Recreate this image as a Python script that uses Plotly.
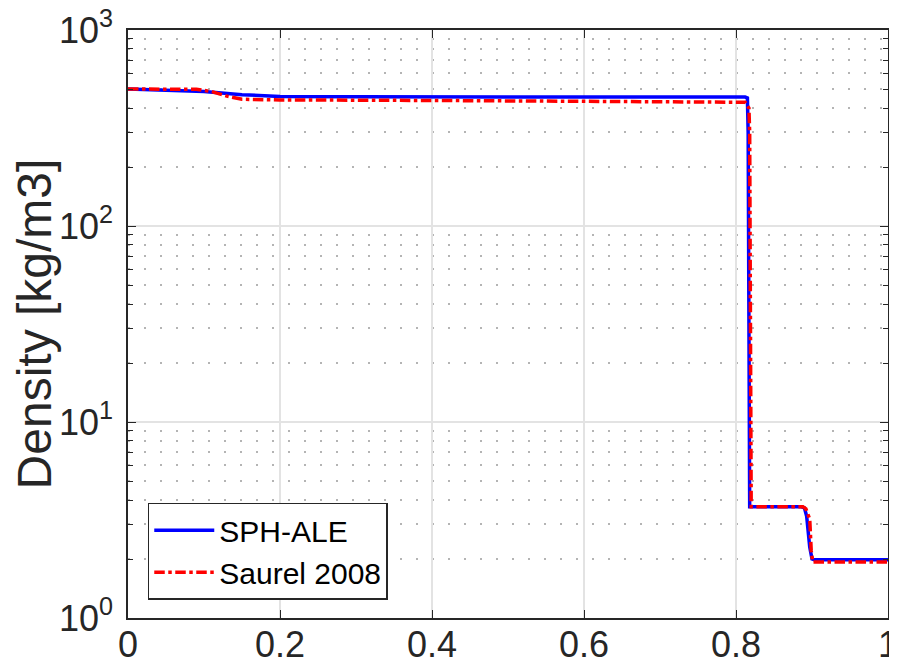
import plotly.graph_objects as go

# SPH-ALE
sph_x = [0.0, 0.05, 0.10, 0.15, 0.20, 0.30, 0.50, 0.70, 0.812, 0.815, 0.816, 0.818, 0.885, 0.890, 0.893, 0.897, 0.900, 0.903, 1.0]
sph_y = [500, 495, 485, 468, 458, 456, 455, 455, 455, 450, 300, 3.7, 3.7, 3.65, 3.3, 2.3, 2.0, 1.98, 1.98]

# Saurel 2008
sau_x = [0.0, 0.05, 0.09, 0.11, 0.13, 0.15, 0.20, 0.40, 0.60, 0.80, 0.812, 0.817, 0.818, 0.820, 0.888, 0.892, 0.897, 0.899, 0.901, 1.0]
sau_y = [500, 500, 498, 485, 460, 443, 440, 437, 433, 428, 428, 400, 300, 3.7, 3.7, 3.6, 3.2, 2.2, 1.93, 1.93]

x_ticks = [0, 0.2, 0.4, 0.6, 0.8, 1]
x_labels = ["0", "0.2", "0.4", "0.6", "0.8", "1"]
y_ticks = [1, 10, 100, 1000]
y_labels = ["10<sup>0</sup>", "10<sup>1</sup>", "10<sup>2</sup>", "10<sup>3</sup>"]

fig = go.Figure()
fig.add_trace(go.Scatter(x=sph_x, y=sph_y, mode="lines", name="SPH-ALE",
                         line=dict(color="#0000ff", width=3.5)))
fig.add_trace(go.Scatter(x=sau_x, y=sau_y, mode="lines", name="Saurel 2008",
                         line=dict(color="#ff0000", width=3.5, dash="dashdot")))

fam = "Liberation Sans, Arial, sans-serif"
font = dict(family=fam, size=34, color="#262626")

fig.update_layout(
    width=889, height=658,
    margin=dict(l=120, r=9, t=22, b=48, autoexpand=False),
    paper_bgcolor="white", plot_bgcolor="white",
    font=font,
    showlegend=True,
    legend=dict(x=0.026, y=0.031, xanchor="left", yanchor="bottom",
                bgcolor="white", bordercolor="#262626", borderwidth=1.5,
                font=dict(family=fam, size=30, color="black"),
                tracegroupgap=0, itemwidth=60),
)
fig.update_xaxes(range=[0, 1], tickvals=x_ticks, ticktext=x_labels,
                 showline=True, linecolor="#262626", linewidth=1.5, mirror="ticks",
                 ticks="inside", ticklen=8, tickcolor="#262626",
                 tickfont=dict(family=fam, size=36, color="#262626"),
                 ticklabeloverflow="allow", ticklabelstandoff=-6,
                 showgrid=True, gridcolor="#e3e3e3", gridwidth=1.5, zeroline=False)
fig.update_yaxes(type="log", range=[0, 3], tickvals=y_ticks, ticktext=y_labels,
                 showline=True, linecolor="#262626", linewidth=1.5, mirror="ticks",
                 ticks="inside", ticklen=8, tickcolor="#262626",
                 tickfont=dict(family=fam, size=36, color="#262626"),
                 ticklabeloverflow="allow", ticklabelstandoff=6,
                 showgrid=True, gridcolor="#e3e3e3", gridwidth=1.5, zeroline=False,
                 title=dict(text="Density [kg/m3]", standoff=0,
                            font=dict(family=fam, size=48, color="#262626")),
                 minor=dict(tickvals=[m * 10 ** e for e in range(3) for m in range(2, 10)],
                            ticks="inside", ticklen=5, tickcolor="#262626",
                            showgrid=True, gridcolor="#b4b4b4", griddash="2px,14px", gridwidth=1.5))

fig.write_html("out.html")
